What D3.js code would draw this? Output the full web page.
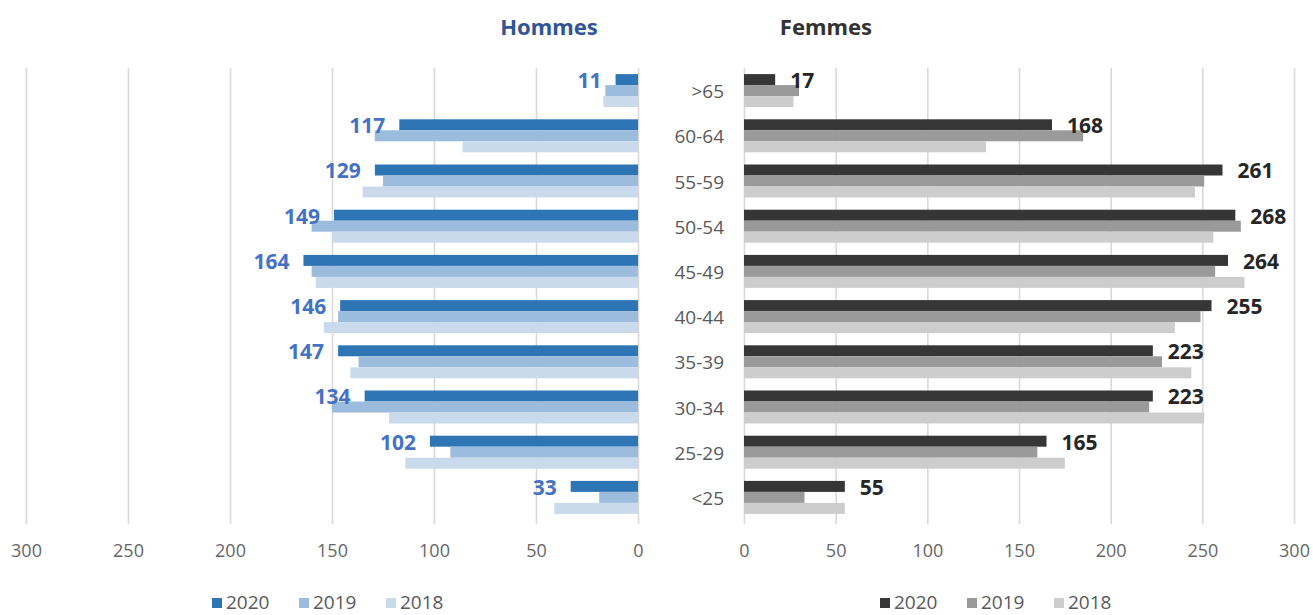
<!DOCTYPE html>
<html>
<head>
<meta charset="utf-8">
<script src="https://cdn.jsdelivr.net/npm/d3@7"></script>
<style>
  html, body { margin: 0; padding: 0; background: #fff; }
  svg { display: block; }
</style>
</head>
<body>
<svg id="chart" width="1313" height="615"></svg>
<script>
// ---- data ----
const categories = [">65", "60-64", "55-59", "50-54", "45-49", "40-44", "35-39", "30-34", "25-29", "<25"];
const years = ["2020", "2019", "2018"];
const hommes2020 = [11, 117, 129, 149, 164, 146, 147, 134, 102, 33];
const hommes2019 = [16, 129, 125, 160, 160, 147, 137, 150, 92, 19];
const hommes2018 = [17, 86, 135, 150, 158, 154, 141, 122, 114, 41];
const femmes2020 = [17, 168, 261, 268, 264, 255, 223, 223, 165, 55];
const femmes2019 = [30, 185, 251, 271, 257, 249, 228, 221, 160, 33];
const femmes2018 = [27, 132, 246, 256, 273, 235, 244, 251, 175, 55];
const tickValues = [0, 50, 100, 150, 200, 250, 300];

const hommes = { "2020": hommes2020, "2019": hommes2019, "2018": hommes2018 };
const femmes = { "2020": femmes2020, "2019": femmes2019, "2018": femmes2018 };

const colH = { "2020": "#2E75B6", "2019": "#9BBCDD", "2018": "#C9DAEC" };
const colF = { "2020": "#363636", "2019": "#9A9A9A", "2018": "#CDCDCD" };

const svg = d3.select("#chart");
const plotTop = 68, plotBottom = 520;
const textFont = "'Open Sans', 'Noto Sans', sans-serif";

const y = d3.scaleBand().domain(categories).range([plotTop, plotBottom])
  .paddingInner(0.27).paddingOuter(0.135);
const yy = d3.scaleBand().domain(years).range([0, y.bandwidth()]);

const xL = d3.scaleLinear().domain([0, 300]).range([638, 26]);
const xR = d3.scaleLinear().domain([0, 300]).range([744, 1294]);

function drawPanel(x, data, colors, labelColor, side) {
  const g = svg.append("g");
  // grid
  const grid = g.append("g").attr("transform", `translate(0,${plotBottom + 4})`)
    .call(d3.axisBottom(x).tickValues(tickValues).tickSize(-(plotBottom + 4 - plotTop)).tickFormat(""));
  grid.select(".domain").remove();
  grid.selectAll(".tick line").attr("stroke", "#D9D9D9").attr("stroke-width", 1.6);

  // tick labels
  const ax = g.append("g").attr("transform", `translate(0,${plotBottom + 18})`)
    .call(d3.axisBottom(x).tickValues(tickValues).tickSize(0).tickPadding(6));
  ax.select(".domain").remove();
  ax.selectAll("text").attr("font-family", textFont).attr("font-size", 18)
    .attr("fill", "#666666");

  // bars
  years.forEach(yr => {
    g.append("g").selectAll("rect").data(categories).join("rect")
      .attr("x", (c, i) => Math.min(x(0), x(data[yr][i])))
      .attr("width", (c, i) => Math.abs(x(data[yr][i]) - x(0)))
      .attr("y", c => y(c) + yy(yr))
      .attr("height", yy.bandwidth())
      .attr("fill", colors[yr]);
  });

  // labels for 2020
  g.append("g").selectAll("text").data(categories).join("text")
    .attr("x", (c, i) => side === "left" ? x(data["2020"][i]) - 14 : x(data["2020"][i]) + 15)
    .attr("y", c => y(c) + yy("2020") + yy.bandwidth() / 2 + 1)
    .attr("dy", "0.35em")
    .attr("text-anchor", side === "left" ? "end" : "start")
    .attr("font-family", textFont)
    .attr("font-weight", 700)
    .attr("font-size", 21)
    .attr("fill", labelColor)
    .text((c, i) => data["2020"][i]);
}

drawPanel(xL, hommes, colH, "#4472C4", "left");
drawPanel(xR, femmes, colF, "#262626", "right");

// category labels
svg.append("g").selectAll("text").data(categories).join("text")
  .attr("x", 724)
  .attr("y", c => y(c) + y.bandwidth() / 2 + 1)
  .attr("dy", "0.35em")
  .attr("text-anchor", "end")
  .attr("font-family", textFont)
  .attr("font-size", 19)
  .attr("fill", "#595959")
  .text(d => d);

// titles
svg.append("text").attr("x", 549).attr("y", 27).attr("dy", "0.35em")
  .attr("text-anchor", "middle").attr("font-family", "'Noto Sans', sans-serif")
  .attr("font-weight", 700).attr("font-size", 22).attr("fill", "#2F5597")
  .text("Hommes");
svg.append("text").attr("x", 826).attr("y", 27).attr("dy", "0.35em")
  .attr("text-anchor", "middle").attr("font-family", "'Noto Sans', sans-serif")
  .attr("font-weight", 700).attr("font-size", 22).attr("fill", "#333333")
  .text("Femmes");

// legends
function legend(x0, colors) {
  const spacing = 87;
  const g = svg.append("g");
  years.forEach((yr, i) => {
    const gx = x0 + i * spacing;
    g.append("rect").attr("x", gx).attr("y", 598).attr("width", 10).attr("height", 10)
      .attr("fill", colors[yr]);
    g.append("text").attr("x", gx + 14).attr("y", 602).attr("dy", "0.35em")
      .attr("font-family", textFont).attr("font-size", 19).attr("fill", "#595959")
      .text(yr);
  });
}
legend(212, colH);
legend(880, colF);
</script>
</body>
</html>
